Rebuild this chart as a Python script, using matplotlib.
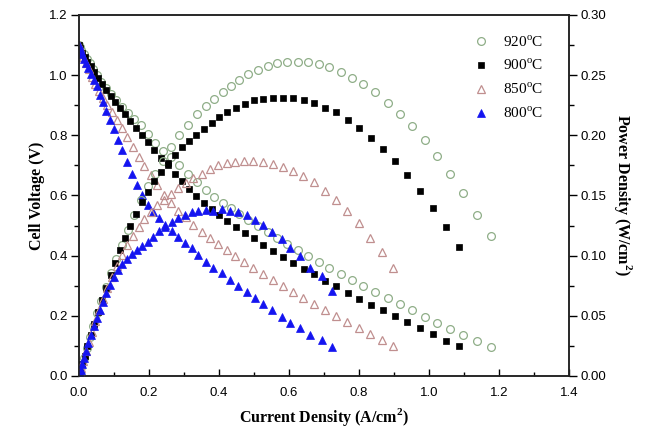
import matplotlib
matplotlib.use("Agg")
import matplotlib.pyplot as plt
from matplotlib.ticker import MultipleLocator

plt.rcParams['mathtext.fontset'] = 'custom'
plt.rcParams['mathtext.rm'] = 'Liberation Serif'
plt.rcParams['mathtext.bf'] = 'Liberation Serif:bold'

# ---------------- data ----------------
labels = ["920$^{\\mathrm{o}}$C", "900$^{\\mathrm{o}}$C", "850$^{\\mathrm{o}}$C", "800$^{\\mathrm{o}}$C"]

i_920 = [0.0, 0.002, 0.007, 0.014, 0.022, 0.031, 0.041, 0.052, 0.064, 0.077, 0.091, 0.106, 0.122,
         0.139, 0.157, 0.176, 0.196, 0.217, 0.239, 0.262, 0.286, 0.311, 0.337, 0.363, 0.386, 0.41,
         0.433, 0.458, 0.484, 0.511, 0.539, 0.567, 0.595, 0.625, 0.653, 0.685, 0.715, 0.749, 0.781,
         0.812, 0.847, 0.882, 0.917, 0.951, 0.988, 1.024, 1.060, 1.098, 1.136, 1.176]
v_920 = [1.10, 1.095, 1.085, 1.07, 1.055, 1.04, 1.02, 1.0, 0.978, 0.957, 0.937, 0.918, 0.895,
         0.875, 0.855, 0.833, 0.805, 0.775, 0.747, 0.727, 0.70, 0.672, 0.645, 0.617, 0.596, 0.576,
         0.557, 0.537, 0.519, 0.497, 0.479, 0.459, 0.439, 0.418, 0.40, 0.378, 0.359, 0.338, 0.318,
         0.299, 0.279, 0.258, 0.238, 0.218, 0.197, 0.177, 0.157, 0.137, 0.117, 0.097]
p_920 = [0.0, 0.0022, 0.0076, 0.015, 0.0232, 0.0322, 0.0418, 0.052, 0.0626, 0.0737, 0.0853, 0.0973, 0.1092,
         0.1216, 0.1342, 0.1466, 0.1578, 0.1682, 0.1785, 0.1905, 0.2002, 0.209, 0.2174, 0.224, 0.230, 0.236,
         0.241, 0.246, 0.251, 0.254, 0.258, 0.260, 0.261, 0.261, 0.261, 0.259, 0.257, 0.253, 0.248,
         0.243, 0.236, 0.227, 0.218, 0.208, 0.196, 0.183, 0.168, 0.152, 0.134, 0.116]

i_900 = [0.0, 0.003, 0.009, 0.016, 0.024, 0.033, 0.043, 0.054, 0.065, 0.077, 0.09, 0.103, 0.117,
         0.132, 0.147, 0.163, 0.18, 0.197, 0.215, 0.234, 0.253, 0.273, 0.293, 0.314, 0.335, 0.357,
         0.379, 0.401, 0.424, 0.449, 0.474, 0.5, 0.527, 0.555, 0.584, 0.612, 0.643, 0.672, 0.704,
         0.734, 0.768, 0.801, 0.834, 0.868, 0.903, 0.938, 0.974, 1.012, 1.049, 1.086]
v_900 = [1.10, 1.09, 1.075, 1.06, 1.045, 1.03, 1.01, 0.99, 0.972, 0.952, 0.932, 0.912, 0.892,
         0.87, 0.848, 0.826, 0.802, 0.778, 0.752, 0.726, 0.70, 0.673, 0.648, 0.622, 0.598, 0.574,
         0.554, 0.536, 0.516, 0.496, 0.477, 0.458, 0.436, 0.416, 0.396, 0.377, 0.356, 0.338, 0.317,
         0.298, 0.277, 0.257, 0.237, 0.218, 0.198, 0.178, 0.158, 0.138, 0.118, 0.099]
p_900 = [0.0, 0.0033, 0.0097, 0.017, 0.0251, 0.034, 0.0434, 0.0535, 0.0632, 0.0733, 0.0839, 0.0939, 0.1044,
         0.1148, 0.1247, 0.1346, 0.1444, 0.1533, 0.1617, 0.1699, 0.1771, 0.1837, 0.1899, 0.1953, 0.2003, 0.205,
         0.210, 0.215, 0.219, 0.2225, 0.226, 0.229, 0.230, 0.231, 0.231, 0.231, 0.229, 0.227, 0.223,
         0.219, 0.213, 0.206, 0.198, 0.189, 0.179, 0.167, 0.154, 0.140, 0.124, 0.107]

i_850 = [0.0, 0.002, 0.006, 0.012, 0.02, 0.028, 0.037, 0.047, 0.058, 0.069, 0.081, 0.094, 0.108,
         0.122, 0.137, 0.153, 0.17, 0.187, 0.205, 0.224, 0.243, 0.263, 0.284, 0.305, 0.327, 0.35,
         0.374, 0.398, 0.422, 0.446, 0.471, 0.498, 0.525, 0.553, 0.582, 0.612, 0.641, 0.672, 0.703,
         0.733, 0.765, 0.799, 0.832, 0.865, 0.898]
v_850 = [1.10, 1.09, 1.075, 1.06, 1.04, 1.02, 0.995, 0.972, 0.947, 0.923, 0.90, 0.876, 0.85,
         0.823, 0.795, 0.762, 0.728, 0.698, 0.667, 0.635, 0.603, 0.575, 0.55, 0.527, 0.503, 0.48,
         0.46, 0.44, 0.419, 0.399, 0.38, 0.359, 0.339, 0.318, 0.298, 0.278, 0.259, 0.24, 0.219,
         0.199, 0.179, 0.159, 0.139, 0.12, 0.10]
p_850 = [0.0, 0.0022, 0.0065, 0.0127, 0.0208, 0.0286, 0.0368, 0.0457, 0.0549, 0.0637, 0.0729, 0.0823, 0.0918,
         0.1004, 0.1089, 0.1166, 0.1238, 0.1305, 0.1367, 0.1422, 0.1465, 0.1512, 0.1562, 0.1607, 0.1645, 0.168,
         0.172, 0.175, 0.177, 0.178, 0.179, 0.179, 0.178, 0.176, 0.1735, 0.170, 0.166, 0.161, 0.154,
         0.146, 0.137, 0.127, 0.115, 0.103, 0.0895]

i_800 = [0.0, 0.002, 0.005, 0.009, 0.014, 0.02, 0.027, 0.034, 0.042, 0.05, 0.059, 0.068, 0.078,
         0.089, 0.1, 0.112, 0.124, 0.137, 0.151, 0.165, 0.18, 0.196, 0.212, 0.229, 0.247, 0.265,
         0.284, 0.303, 0.322, 0.341, 0.363, 0.384, 0.408, 0.431, 0.455, 0.479, 0.503, 0.527, 0.55,
         0.579, 0.603, 0.631, 0.66, 0.693, 0.722]
v_800 = [1.10, 1.09, 1.08, 1.07, 1.055, 1.04, 1.025, 1.005, 0.985, 0.963, 0.935, 0.91, 0.882,
         0.851, 0.82, 0.785, 0.75, 0.71, 0.672, 0.635, 0.60, 0.567, 0.545, 0.525, 0.503, 0.482,
         0.461, 0.443, 0.424, 0.402, 0.38, 0.358, 0.341, 0.319, 0.299, 0.28, 0.258, 0.238, 0.219,
         0.197, 0.177, 0.158, 0.136, 0.12, 0.098]
p_800 = [0.0, 0.0022, 0.0054, 0.0096, 0.0148, 0.0208, 0.0277, 0.0342, 0.0414, 0.0482, 0.0552, 0.0619, 0.0688,
         0.0757, 0.082, 0.0879, 0.093, 0.0973, 0.1015, 0.1048, 0.108, 0.1111, 0.1155, 0.1202, 0.1242, 0.1277,
         0.1309, 0.134, 0.1365, 0.137, 0.138, 0.1375, 0.139, 0.1375, 0.136, 0.134, 0.1298, 0.1254, 0.12,
         0.114, 0.1067, 0.0997, 0.0898, 0.083, 0.0708]

x_ticks = [0.0, 0.2, 0.4, 0.6, 0.8, 1.0, 1.2, 1.4]
y_ticks = [0.0, 0.2, 0.4, 0.6, 0.8, 1.0, 1.2]
p_ticks = [0.00, 0.05, 0.10, 0.15, 0.20, 0.25, 0.30]

# ---------------- styling ----------------
series = [
    (i_920, v_920, p_920, dict(marker='o', ms=5.6, mfc='none', mec='#8fae88', mew=0.9)),
    (i_900, v_900, p_900, dict(marker='s', ms=5.0, mfc='black', mec='black', mew=0.5)),
    (i_850, v_850, p_850, dict(marker='^', ms=5.8, mfc='none', mec='#c08f8f', mew=0.9)),
    (i_800, v_800, p_800, dict(marker='^', ms=5.8, mfc='#1414f0', mec='#1414f0', mew=0.5)),
]

tick_font = 'Liberation Sans'
label_font = 'Liberation Serif'

fig = plt.figure(figsize=(6.51, 4.34), dpi=100)
ax = fig.add_axes([79/651, 1-376/434, 490/651, 361/434])
ax2 = ax.twinx()

handles = []
for (ii, vv, pp, st), lab in zip(series, labels):
    h, = ax.plot(ii, vv, linestyle='none', label=lab, **st)
    ax2.plot(ii, pp, linestyle='none', **st)
    handles.append(h)

ax.set_xlim(0, 1.4)
ax.set_ylim(0, 1.2)
ax2.set_ylim(0, 0.3)
ax.set_xticks(x_ticks)
ax.set_yticks(y_ticks)
ax2.set_yticks(p_ticks)
ax.set_xticklabels([f"{t:.1f}" for t in x_ticks], family=tick_font, fontsize=9.5)
ax.set_yticklabels([f"{t:.1f}" for t in y_ticks], family=tick_font, fontsize=9.5)
ax2.set_yticklabels([f"{t:.2f}" for t in p_ticks], family=tick_font, fontsize=9.5)

ax.xaxis.set_minor_locator(MultipleLocator(0.1))
ax.yaxis.set_minor_locator(MultipleLocator(0.1))
ax2.yaxis.set_minor_locator(MultipleLocator(0.025))

ax.tick_params(axis='x', which='major', direction='in', length=5, width=1, pad=8, top=False)
ax.tick_params(axis='x', which='minor', direction='in', length=3, width=1, top=False)
ax.tick_params(axis='y', which='major', direction='out', length=6, width=1, pad=2)
ax.tick_params(axis='y', which='minor', direction='out', length=3.5, width=1)
ax2.tick_params(axis='y', which='major', direction='out', length=6, width=1, pad=2)
ax2.tick_params(axis='y', which='minor', direction='out', length=3.5, width=1)

for a in (ax, ax2):
    for s in a.spines.values():
        s.set_linewidth(1.1)
        s.set_color('#222222')

ax.set_xlabel("Current Density (A/cm$^{\\mathbf{2}}$)", family=label_font, fontweight='bold',
              fontsize=11.5, labelpad=5)
ax.set_ylabel("Cell Voltage (V)", family=label_font, fontweight='bold', fontsize=11.5, labelpad=3)
ax2.set_ylabel("Power Density (W/cm$^{\\mathbf{2}}$)", family=label_font, fontweight='bold',
               fontsize=11.5, rotation=270, labelpad=20)

leg = ax.legend(handles=handles, loc='upper right', bbox_to_anchor=(0.975, 0.985), frameon=False,
                prop={'family': label_font, 'size': 11}, handlelength=1.0, handletextpad=0.9,
                labelspacing=0.55, numpoints=1)

fig.savefig("out.png", dpi=100)
